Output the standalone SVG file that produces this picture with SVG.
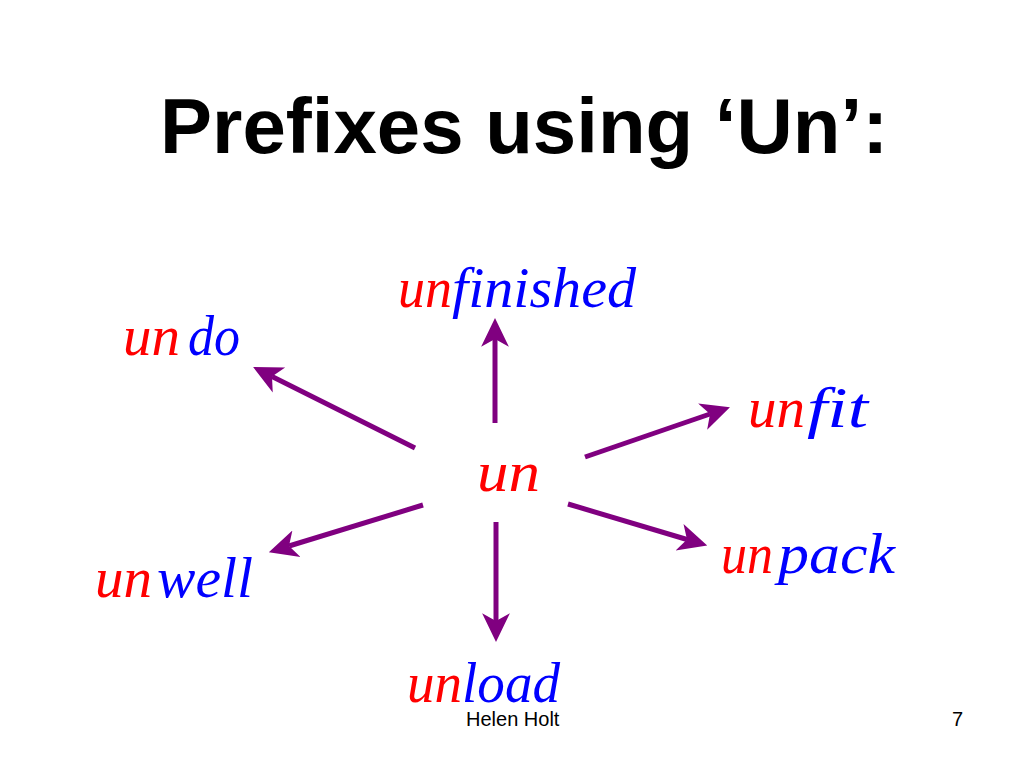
<svg xmlns="http://www.w3.org/2000/svg" width="1024" height="768" viewBox="0 0 1024 768">
<defs>
<style>
.pre{font-family:"Liberation Serif","DejaVu Serif",serif;font-style:italic;fill:#ff0000;font-size:56px}
.stem{font-family:"Liberation Serif","DejaVu Serif",serif;font-style:italic;fill:#0000ff;font-size:56px}
.arr{stroke:#800080;stroke-width:5;fill:none;marker-end:url(#ah)}
.ft{font-family:"Liberation Sans",Arial,sans-serif;font-size:20px;fill:#000}
</style>
<marker id="ah" markerUnits="userSpaceOnUse" markerWidth="30" markerHeight="30" viewBox="0 -13 27 26" refX="7" refY="0" orient="auto">
<path d="M26,0 L0,-12.5 L7,0 L0,12.5 Z" fill="#800080"/>
</marker>
</defs>
<rect width="1024" height="768" fill="#ffffff"/>
<text x="160" y="153" font-family="'Liberation Sans',Arial,sans-serif" font-weight="bold" font-size="78" fill="#000">Prefixes using ‘Un’:</text>
<g id="connectors">
<line class="arr" x1="495" y1="423" x2="495" y2="339"/>
<line class="arr" x1="415" y1="448" x2="272" y2="376.5"/>
<line class="arr" x1="585" y1="457" x2="710" y2="414"/>
<line class="arr" x1="568" y1="504" x2="687" y2="539.5"/>
<line class="arr" x1="423" y1="505" x2="289" y2="546"/>
<line class="arr" x1="496" y1="522" x2="496" y2="621"/>
</g>
<g id="center">
<text class="pre" x="477" y="491" font-size="62" textLength="63" lengthAdjust="spacingAndGlyphs">un</text>
</g>
<g id="undo">
<text class="pre" x="123" y="355" textLength="57" lengthAdjust="spacingAndGlyphs">un</text>
<text class="stem" x="188" y="355" textLength="52" lengthAdjust="spacingAndGlyphs">do</text>
</g>
<g id="unfinished">
<text class="pre" x="398" y="307" textLength="54" lengthAdjust="spacingAndGlyphs">un</text>
<text class="stem" x="452" y="307" textLength="184" lengthAdjust="spacingAndGlyphs">finished</text>
</g>
<g id="unfit">
<text class="pre" x="748" y="427" textLength="57" lengthAdjust="spacingAndGlyphs">un</text>
<text class="stem" x="807" y="427" textLength="61" lengthAdjust="spacingAndGlyphs">fit</text>
</g>
<g id="unpack">
<text class="pre" x="721" y="573" textLength="52" lengthAdjust="spacingAndGlyphs">un</text>
<text class="stem" x="778" y="573" textLength="117" lengthAdjust="spacingAndGlyphs">pack</text>
</g>
<g id="unwell">
<text class="pre" x="95" y="597" textLength="57" lengthAdjust="spacingAndGlyphs">un</text>
<text class="stem" x="157" y="597" textLength="96" lengthAdjust="spacingAndGlyphs">well</text>
</g>
<g id="unload">
<text class="pre" x="407" y="702" textLength="55" lengthAdjust="spacingAndGlyphs">un</text>
<text class="stem" x="462" y="702" textLength="98" lengthAdjust="spacingAndGlyphs">load</text>
</g>
<text class="ft" x="466" y="726">Helen Holt</text>
<text class="ft" x="952" y="726">7</text>
</svg>
